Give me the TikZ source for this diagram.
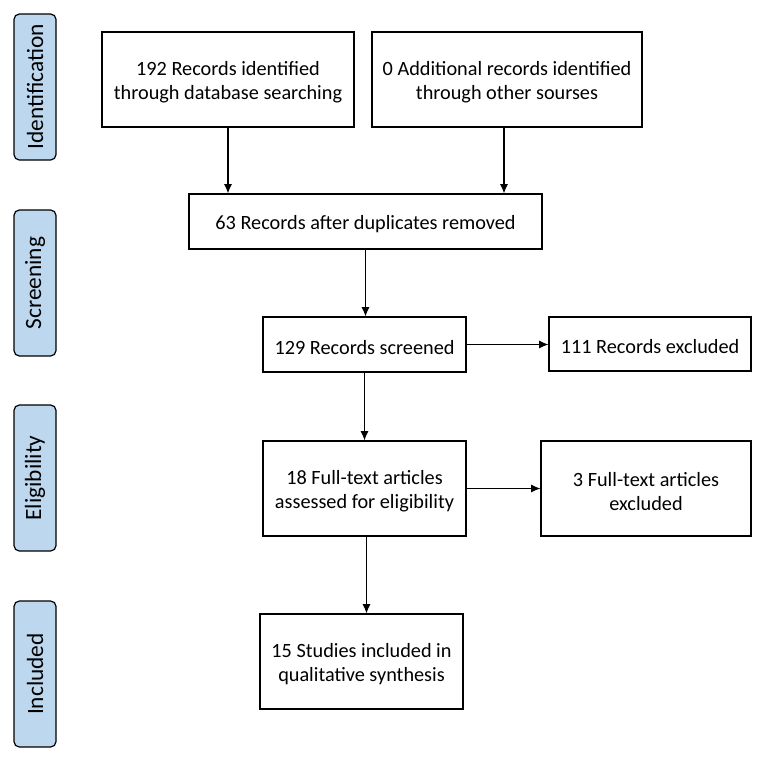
\documentclass[tikz,border=0pt]{standalone}
\usepackage{fontspec}
\setmainfont{Carlito}
\usetikzlibrary{positioning,calc,arrows.meta}

\begin{document}
\begin{tikzpicture}[x=0.75pt, y=-0.75pt,
	stage/.style={rectangle, rounded corners=4pt, draw=black, line width=0.9pt, fill=phasefill, rotate=90,
		minimum width=109.5pt, minimum height=31.5pt, inner sep=0pt, font=\fontsize{17.5}{20}\selectfont},
	box/.style={rectangle, draw=black, line width=0.8pt, align=center, inner sep=0pt,
		text height=15pt, font=\fontsize{15.2}{18}\selectfont},
	tallbox/.style={box, text height=33pt, minimum height=71.25pt},
	flow/.style={-{Latex[length=7pt,width=6pt]}, line width=0.8pt}
]
\definecolor{phasefill}{HTML}{BDD7EE}
\useasboundingbox (0,0) rectangle (760,758);
% phases
\node[stage] (ident) at (35,87) {Identification};
\node[stage] (screen) at (35,283) {Screening};
\node[stage] (elig) at (35,478) {Eligibility};
\node[stage] (incl) at (35,674) {Included};
% records
\node[tallbox, minimum width=189pt] (db) at (228,79.5) {192 Records identified\\through database searching};
\node[tallbox, minimum width=202.5pt] (other) at (507,79.5) {0 Additional records identified\\through other sourses};
\node[box, minimum width=264.75pt, minimum height=41.25pt] (dup) at (365.5,221.5) {63 Records after duplicates removed};
\node[box, minimum width=152.25pt, minimum height=41.25pt] (screened) at (364.5,344.5) {129 Records screened};
\node[box, minimum width=151.5pt, minimum height=40.5pt] (excl) at (650,344) {111 Records excluded};
\node[tallbox, minimum width=152.25pt] (fulltext) at (364.5,488.5) {18 Full-text articles\\assessed for eligibility};
\node[tallbox, minimum width=157.5pt] (ftexcl) at (646,488.5) {3 Full-text articles\\excluded};
\node[tallbox, minimum width=152.25pt] (studies) at (361.5,661.5) {15 Studies included in\\qualitative synthesis};
% arrows
\draw[flow] (db.south) -- (db.south |- dup.north);
\draw[flow] ([xshift=-2.25pt]other.south) -- ([xshift=-2.25pt]other.south |- dup.north);
\draw[flow] (dup.south) -- (dup.south |- screened.north);
\draw[flow] (screened.east) -- (screened.east -| excl.west);
\draw[flow] (screened.south) -- (fulltext.north);
\draw[flow] (fulltext.east) -- (fulltext.east -| ftexcl.west);
\draw[flow] ([xshift=1.5pt]fulltext.south) -- ([xshift=1.5pt]fulltext.south |- studies.north);
\end{tikzpicture}
\end{document}
